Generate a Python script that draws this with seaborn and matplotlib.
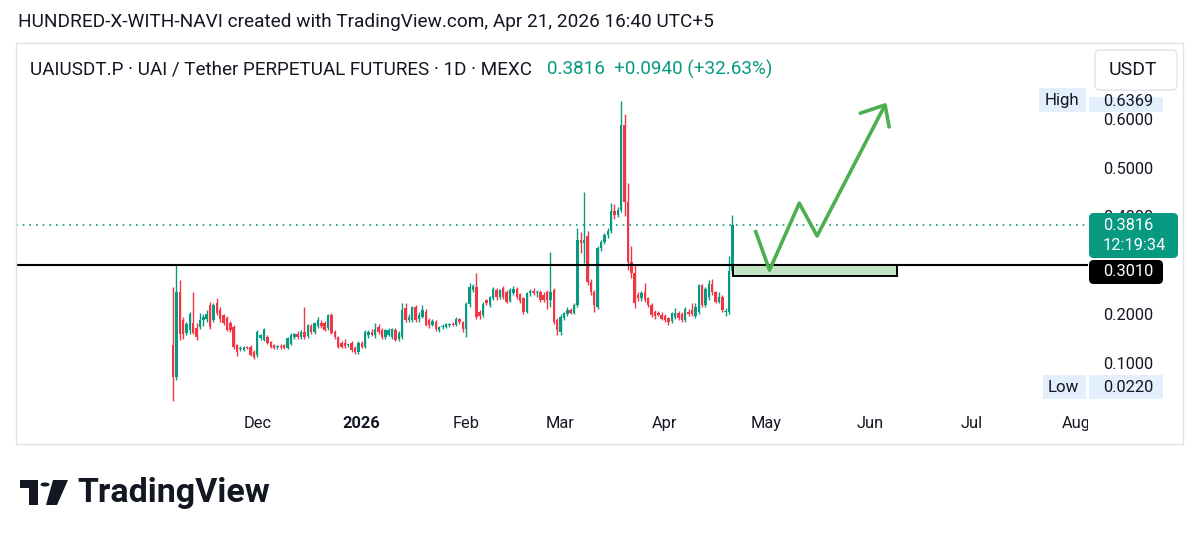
import numpy as np
import pandas as pd
import matplotlib
matplotlib.use("Agg")
import matplotlib.pyplot as plt
import matplotlib.dates as mdates
from matplotlib.patches import Rectangle, FancyBboxPatch, Polygon, Circle
import seaborn as sns

# ---------------- data ----------------
start_date = "2025-11-06"
opens = [0.137, 0.072, 0.245, 0.188, 0.162, 0.168, 0.182, 0.172, 0.174, 0.188,
         0.190, 0.219, 0.188, 0.223, 0.209, 0.198, 0.192, 0.182, 0.174, 0.137,
         0.129, 0.127, 0.131, 0.133, 0.123, 0.117, 0.151, 0.147, 0.153, 0.143,
         0.137, 0.132, 0.135, 0.137, 0.131, 0.140, 0.154, 0.160, 0.153, 0.164,
         0.155, 0.176, 0.164, 0.176, 0.182, 0.182, 0.172, 0.198, 0.164, 0.153,
         0.141, 0.141, 0.136, 0.141, 0.131, 0.123, 0.141, 0.133, 0.157, 0.164,
         0.157, 0.174, 0.168, 0.153, 0.158, 0.153, 0.168, 0.149, 0.153, 0.213,
         0.188, 0.188, 0.215, 0.190, 0.195, 0.205, 0.188, 0.178, 0.184, 0.168,
         0.174, 0.174, 0.178, 0.180, 0.178, 0.190, 0.184, 0.170, 0.221, 0.250,
         0.256, 0.204, 0.198, 0.229, 0.219, 0.233, 0.250, 0.235, 0.254, 0.245,
         0.227, 0.243, 0.252, 0.241, 0.233, 0.205, 0.243, 0.247, 0.243, 0.245,
         0.240, 0.245, 0.229, 0.249, 0.188, 0.164, 0.192, 0.200, 0.209, 0.203,
         0.219, 0.352, 0.345, 0.360, 0.266, 0.245, 0.215, 0.335, 0.348, 0.362,
         0.370, 0.412, 0.403, 0.414, 0.587, 0.430, 0.307, 0.285, 0.239, 0.233,
         0.245, 0.233, 0.219, 0.205, 0.202, 0.198, 0.196, 0.192, 0.186, 0.195,
         0.202, 0.200, 0.188, 0.205, 0.209, 0.196, 0.205, 0.260, 0.219, 0.235,
         0.262, 0.245, 0.225, 0.235, 0.205, 0.205, 0.2876]
highs = [0.256, 0.300, 0.270, 0.195, 0.185, 0.204, 0.245, 0.182, 0.202, 0.200,
         0.208, 0.225, 0.222, 0.233, 0.215, 0.200, 0.196, 0.186, 0.178, 0.140,
         0.135, 0.135, 0.134, 0.137, 0.126, 0.168, 0.160, 0.172, 0.158, 0.146,
         0.140, 0.136, 0.139, 0.140, 0.153, 0.162, 0.162, 0.165, 0.168, 0.215,
         0.180, 0.180, 0.185, 0.195, 0.188, 0.186, 0.200, 0.202, 0.168, 0.156,
         0.145, 0.150, 0.140, 0.145, 0.134, 0.145, 0.145, 0.168, 0.168, 0.170,
         0.182, 0.180, 0.172, 0.170, 0.172, 0.172, 0.172, 0.165, 0.223, 0.223,
         0.200, 0.216, 0.218, 0.205, 0.219, 0.210, 0.192, 0.190, 0.188, 0.176,
         0.180, 0.182, 0.182, 0.184, 0.194, 0.192, 0.186, 0.225, 0.264, 0.262,
         0.284, 0.208, 0.225, 0.232, 0.237, 0.256, 0.254, 0.252, 0.258, 0.250,
         0.254, 0.258, 0.255, 0.244, 0.236, 0.245, 0.252, 0.254, 0.250, 0.250,
         0.245, 0.250, 0.327, 0.254, 0.192, 0.200, 0.205, 0.215, 0.212, 0.222,
         0.376, 0.368, 0.450, 0.370, 0.272, 0.250, 0.340, 0.352, 0.366, 0.376,
         0.427, 0.425, 0.420, 0.6369, 0.610, 0.468, 0.340, 0.300, 0.245, 0.248,
         0.264, 0.236, 0.222, 0.208, 0.206, 0.205, 0.200, 0.195, 0.205, 0.213,
         0.206, 0.204, 0.215, 0.210, 0.223, 0.222, 0.262, 0.262, 0.256, 0.270,
         0.272, 0.248, 0.245, 0.240, 0.212, 0.318, 0.403]
lows = [0.022, 0.065, 0.147, 0.150, 0.158, 0.160, 0.160, 0.148, 0.170, 0.175,
        0.185, 0.170, 0.185, 0.198, 0.185, 0.178, 0.165, 0.164, 0.128, 0.115,
        0.125, 0.124, 0.128, 0.115, 0.108, 0.112, 0.148, 0.145, 0.140, 0.130,
        0.128, 0.128, 0.129, 0.128, 0.128, 0.138, 0.150, 0.150, 0.150, 0.150,
        0.152, 0.160, 0.160, 0.172, 0.172, 0.165, 0.168, 0.160, 0.150, 0.130,
        0.130, 0.130, 0.132, 0.122, 0.118, 0.118, 0.130, 0.130, 0.152, 0.155,
        0.152, 0.160, 0.150, 0.150, 0.155, 0.150, 0.145, 0.145, 0.150, 0.185,
        0.185, 0.185, 0.185, 0.185, 0.192, 0.175, 0.172, 0.175, 0.165, 0.164,
        0.170, 0.172, 0.174, 0.176, 0.175, 0.180, 0.163, 0.153, 0.215, 0.245,
        0.190, 0.190, 0.195, 0.218, 0.215, 0.230, 0.230, 0.232, 0.232, 0.222,
        0.224, 0.240, 0.232, 0.222, 0.200, 0.203, 0.238, 0.240, 0.235, 0.225,
        0.225, 0.210, 0.215, 0.180, 0.157, 0.157, 0.188, 0.196, 0.200, 0.200,
        0.215, 0.325, 0.305, 0.260, 0.240, 0.205, 0.210, 0.330, 0.344, 0.355,
        0.366, 0.395, 0.398, 0.410, 0.400, 0.290, 0.275, 0.213, 0.228, 0.228,
        0.225, 0.215, 0.195, 0.190, 0.196, 0.188, 0.185, 0.178, 0.182, 0.190,
        0.188, 0.185, 0.185, 0.196, 0.196, 0.192, 0.200, 0.215, 0.215, 0.230,
        0.240, 0.222, 0.222, 0.205, 0.196, 0.200, 0.280]
closes = [0.072, 0.245, 0.160, 0.160, 0.180, 0.200, 0.162, 0.153, 0.188, 0.195,
          0.200, 0.174, 0.219, 0.202, 0.190, 0.182, 0.168, 0.168, 0.133, 0.123,
          0.131, 0.133, 0.130, 0.117, 0.112, 0.164, 0.157, 0.170, 0.141, 0.133,
          0.131, 0.135, 0.132, 0.131, 0.151, 0.157, 0.160, 0.153, 0.164, 0.153,
          0.178, 0.164, 0.182, 0.188, 0.175, 0.168, 0.198, 0.162, 0.153, 0.133,
          0.133, 0.134, 0.139, 0.127, 0.123, 0.141, 0.133, 0.164, 0.164, 0.157,
          0.170, 0.164, 0.153, 0.168, 0.168, 0.170, 0.147, 0.162, 0.209, 0.188,
          0.194, 0.215, 0.188, 0.198, 0.209, 0.178, 0.178, 0.186, 0.170, 0.173,
          0.176, 0.179, 0.180, 0.178, 0.190, 0.184, 0.170, 0.221, 0.256, 0.258,
          0.194, 0.196, 0.221, 0.223, 0.235, 0.252, 0.235, 0.250, 0.235, 0.225,
          0.250, 0.252, 0.235, 0.227, 0.205, 0.243, 0.247, 0.243, 0.246, 0.229,
          0.229, 0.229, 0.245, 0.184, 0.168, 0.194, 0.202, 0.209, 0.203, 0.219,
          0.352, 0.345, 0.352, 0.266, 0.245, 0.219, 0.335, 0.348, 0.362, 0.370,
          0.412, 0.403, 0.414, 0.587, 0.430, 0.307, 0.285, 0.222, 0.233, 0.243,
          0.229, 0.219, 0.198, 0.196, 0.198, 0.190, 0.188, 0.184, 0.202, 0.202,
          0.192, 0.188, 0.210, 0.200, 0.200, 0.215, 0.260, 0.219, 0.252, 0.262,
          0.245, 0.225, 0.235, 0.209, 0.207, 0.2876, 0.3816]

last_price = 0.3816
level_price = 0.3010
zone_low = 0.278
high_value = 0.6369
low_value = 0.0220
price_ticks = [0.1, 0.2, 0.4, 0.5, 0.6]
month_ticks = ["2025-12-01", "2026-01-01", "2026-02-01", "2026-03-01", "2026-04-01",
               "2026-05-01", "2026-06-01", "2026-07-01", "2026-08-01"]
month_labels = ["Dec", "2026", "Feb", "Mar", "Apr", "May", "Jun", "Jul", "Aug"]
zone_start, zone_end = "2026-04-21", "2026-06-08"
arrow_dates = ["2026-04-27 18:00", "2026-05-02", "2026-05-10 20:00", "2026-05-16 03:00", "2026-06-05 07:00"]
arrow_prices = [0.372, 0.290, 0.427, 0.360, 0.628]
head_dates = ["2026-05-28 22:00", "2026-06-05 07:00", "2026-06-06 12:00"]
head_prices = [0.611, 0.628, 0.583]

GREEN = "#089981"
RED = "#F23645"
TXT = "#131722"

# ---------------- figure ----------------
sns.set_theme(style="white")
plt.rcParams["font.family"] = ["Roboto", "DejaVu Sans"]

W, H = 1200, 541
fig = plt.figure(figsize=(12, 5.41), dpi=100)
fig.patch.set_facecolor("white")

def fx(x):
    return x / W

def fy(y):
    return 1 - y / H

# panel border
fig.patches.append(Rectangle((fx(16), fy(444)), fx(1183) - fx(16), fy(43) - fy(444),
                             transform=fig.transFigure, fill=False, edgecolor="#e0e3eb",
                             lw=1.0, zorder=0))

ax = fig.add_axes([fx(16), fy(408), fx(1088) - fx(16), fy(44) - fy(408)])
ax.set_facecolor("none")

dates = pd.date_range(start_date, periods=len(closes), freq="D")
dnum = mdates.date2num(dates)
d0 = dnum[0]

df = pd.DataFrame({"date": dnum, "open": opens, "high": highs, "low": lows, "close": closes})
df["up"] = df["close"] >= df["open"]
df["color"] = np.where(df["up"], GREEN, RED)
df["bottom"] = df[["open", "close"]].min(axis=1)
df["height"] = (df["close"] - df["open"]).abs().clip(lower=0.002)

ax.vlines(df["date"], df["low"], df["high"], colors=df["color"], lw=1.0, zorder=3)
ax.bar(df["date"], df["height"], bottom=df["bottom"], width=0.72, color=df["color"],
       linewidth=0, zorder=4)

# horizontal levels
ax.axhline(level_price, color="black", lw=1.5, zorder=5)
ax.axhline(last_price, color=GREEN, lw=1.2, ls=(0, (1, 3)), zorder=2)

# zone rectangle
zs, ze = mdates.datestr2num(zone_start) + 0.2, mdates.datestr2num(zone_end) + 0.8
ax.add_patch(Rectangle((zs, zone_low), ze - zs, level_price - zone_low,
                       facecolor="#c3e5c5", edgecolor="black", lw=1.4, zorder=5))

# projection arrow
arr = pd.DataFrame({"x": mdates.datestr2num(arrow_dates), "y": arrow_prices})
sns.lineplot(data=arr, x="x", y="y", sort=False, estimator=None, color="#4caf50",
             lw=2.6, ax=ax, zorder=6, solid_capstyle="butt")
head = pd.DataFrame({"x": mdates.datestr2num(head_dates), "y": head_prices})
sns.lineplot(data=head, x="x", y="y", sort=False, estimator=None, color="#4caf50",
             lw=2.6, ax=ax, zorder=6)

# scales
ax.set_xlim(d0 - 46.59, d0 + 271.51)
ax.set_ylim(0.00818, 0.75256)
ax.set_xlabel("")
ax.set_ylabel("")
for s in ax.spines.values():
    s.set_visible(False)
ax.grid(False)

ax.set_xticks(mdates.datestr2num(month_ticks))
ax.set_xticklabels(month_labels)
ax.tick_params(axis="x", length=0, pad=6, labelsize=11.8, labelcolor=TXT)
for lab in ax.get_xticklabels():
    if lab.get_text() == "2026":
        lab.set_fontweight("bold")

ax.yaxis.tick_right()
ax.set_yticks(price_ticks)
ax.set_yticklabels([f"{v:.4f}" for v in price_ticks])
ax.tick_params(axis="y", length=0, pad=10.8, labelsize=11.8, labelcolor=TXT)

# cover clipped part of "Aug" below the price column
fig.patches.append(Rectangle((fx(1088), fy(443)), fx(1182) - fx(1088), fy(409) - fy(443),
                             transform=fig.transFigure, facecolor="white", edgecolor="none",
                             zorder=5))

# ---------------- price-scale labels ----------------
def box(x0, y0, x1, y1, color, rounded=False, ec="none", z=6):
    if rounded:
        p = FancyBboxPatch((fx(x0), fy(y1)), fx(x1) - fx(x0), fy(y0) - fy(y1),
                           boxstyle="round,pad=0,rounding_size=0.004",
                           transform=fig.transFigure, facecolor=color, edgecolor=ec,
                           lw=1.0, zorder=z, mutation_aspect=W / H)
    else:
        p = Rectangle((fx(x0), fy(y1)), fx(x1) - fx(x0), fy(y0) - fy(y1),
                      transform=fig.transFigure, facecolor=color, edgecolor=ec, zorder=z)
    fig.patches.append(p)

def label(x, y, s, color=TXT, size=11.8, ha="left", weight="normal", z=7):
    return fig.text(fx(x), fy(y), s, color=color, fontsize=size, ha=ha, va="center",
                    fontweight=weight, zorder=z)

# last price box
box(1089, 213, 1178, 258, GREEN, rounded=True)
label(1103, 226, f"{last_price:.4f}", color="white")
label(1103, 245, "12:19:34", color="white")
# level box
box(1089, 260, 1163, 284, "black", rounded=True)
label(1103, 271, f"{level_price:.4f}", color="white")
# High / Low
LB = "#e3effd"
box(1039, 88, 1086, 112, LB)
box(1089, 97, 1163, 112, LB)
label(1045, 100, "High", size=12.2)
label(1103, 101, f"{high_value:.4f}")
box(1043, 375, 1086, 399, LB)
box(1089, 375, 1163, 399, LB)
label(1048, 387, "Low", size=12.2)
label(1103, 387, f"{low_value:.4f}")
# USDT button
box(1095, 50, 1177, 90, "white", rounded=True, ec="#e0e3eb")
label(1133, 70, "USDT", ha="center", size=14)

# ---------------- header texts ----------------
label(18, 22, "HUNDRED-X-WITH-NAVI created with TradingView.com, Apr 21, 2026 16:40 UTC+5",
      size=13.7)
label(30, 69, "UAIUSDT.P · UAI / Tether PERPETUAL FUTURES · 1D · MEXC", size=13.6)
label(547, 69, "0.3816  +0.0940 (+32.63%)", color=GREEN, size=13.6)

# ---------------- footer logo ----------------
logo_color = "#131722"
fig.patches.append(Polygon([(fx(20), fy(480)), (fx(38), fy(480)), (fx(38), fy(505)),
                            (fx(29), fy(505)), (fx(29), fy(488)), (fx(20), fy(488))],
                           closed=True, transform=fig.transFigure, facecolor=logo_color,
                           edgecolor="none"))
fig.patches.append(Circle((fx(45), fy(484.5)), 4.5 / W, transform=fig.transFigure,
                          facecolor=logo_color, edgecolor="none"))
fig.patches.append(Polygon([(fx(53), fy(480)), (fx(68), fy(480)), (fx(57), fy(505)),
                            (fx(46), fy(505))],
                           closed=True, transform=fig.transFigure, facecolor=logo_color,
                           edgecolor="none"))
label(77, 493, "TradingView", size=24.5, weight="bold")

fig.savefig("out.png", dpi=100, facecolor="white")
